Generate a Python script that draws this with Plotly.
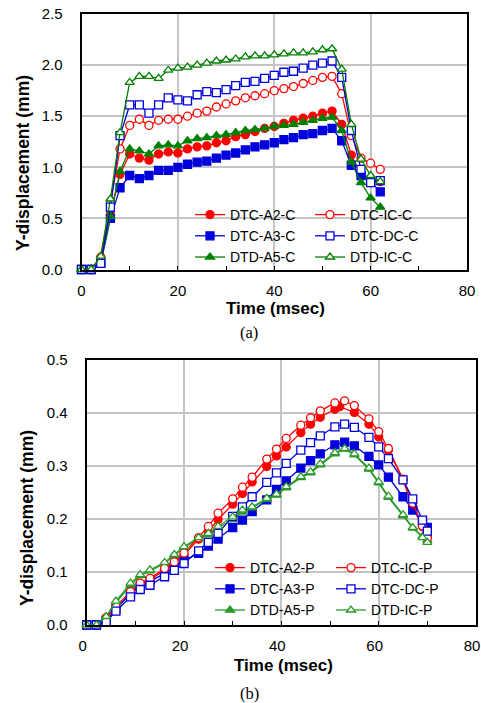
import plotly.graph_objects as go

W, H = 481, 703

# ---------------- data: (a) C series ----------------
time_c = [0, 2, 4, 6, 8, 10, 12, 14, 16, 18, 20, 22, 24, 26, 28, 30, 32, 34, 36, 38,
          40, 42, 44, 46, 48, 50, 52, 54, 56, 58, 60, 62]
dtc_a2_c = [0, 0, 0.11, 0.57, 0.93, 1.13, 1.09, 1.07, 1.13, 1.15, 1.14, 1.18, 1.20, 1.21, 1.24, 1.26,
            1.30, 1.32, 1.35, 1.38, 1.40, 1.43, 1.46, 1.48, 1.50, 1.53, 1.55, 1.42, 1.12, 0.93, 0.88, 0.86]
dtc_ic_c = [0, 0, 0.12, 0.65, 1.18, 1.41, 1.47, 1.41, 1.46, 1.47, 1.47, 1.50, 1.53, 1.55, 1.59, 1.62,
            1.65, 1.68, 1.70, 1.72, 1.75, 1.77, 1.79, 1.82, 1.85, 1.88, 1.89, 1.72, 1.31, 1.09, 1.04, 0.98]
dtc_a3_c = [0, 0, 0.06, 0.50, 0.80, 0.92, 0.89, 0.92, 0.97, 0.97, 1.00, 1.03, 1.05, 1.06, 1.09, 1.12,
            1.14, 1.17, 1.20, 1.22, 1.24, 1.27, 1.29, 1.32, 1.33, 1.36, 1.38, 1.26, 1.02, 0.92, 0.86, 0.76]
dtc_dc_c = [0, 0, 0.06, 0.61, 1.31, 1.61, 1.61, 1.53, 1.61, 1.68, 1.66, 1.65, 1.71, 1.74, 1.73, 1.76,
            1.80, 1.83, 1.84, 1.87, 1.90, 1.93, 1.94, 1.97, 2.00, 2.02, 2.04, 1.88, 1.36, 0.98, 0.85, 0.87]
dtd_a5_c = [0, 0, 0.07, 0.52, 0.96, 1.18, 1.16, 1.13, 1.21, 1.22, 1.21, 1.26, 1.28, 1.29, 1.31, 1.32,
            1.34, 1.36, 1.37, 1.38, 1.40, 1.41, 1.42, 1.44, 1.46, 1.48, 1.49, 1.36, 1.05, 0.85, 0.70, 0.61]
dtd_ic_c = [0, 0, 0.13, 0.69, 1.34, 1.83, 1.89, 1.89, 1.87, 1.95, 1.97, 1.98, 2.00, 2.02, 2.04, 2.05,
            2.06, 2.08, 2.09, 2.09, 2.10, 2.11, 2.12, 2.12, 2.13, 2.15, 2.16, 1.96, 1.42, 1.08, 0.92, 0.86]

# ---------------- data: (b) P series ----------------
time_p = [0, 2, 4, 6, 9, 11, 13, 16, 18, 20, 23, 25, 27, 30, 32, 34, 37, 39, 41, 44,
          46, 48, 51, 53, 55, 58, 60, 62, 65, 67, 69, 70]
time_p_a2 = [0, 2, 4, 6, 9, 11, 13, 16, 18, 20, 23, 25, 27, 30, 32, 34, 37, 39, 41, 44,
             46, 48, 51, 52, 55, 58, 60, 62, 65, 67, 69, 70]
dtc_a2_p = [0, 0, 0.013, 0.031, 0.060, 0.075, 0.085, 0.103, 0.116, 0.132, 0.162, 0.176, 0.199, 0.228,
            0.248, 0.270, 0.299, 0.319, 0.336, 0.363, 0.379, 0.392, 0.407, 0.412, 0.401, 0.379, 0.355,
            0.330, 0.274, 0.222, 0.186, 0.167]
dtc_ic_p = [0, 0, 0.014, 0.035, 0.063, 0.079, 0.088, 0.107, 0.119, 0.136, 0.165, 0.186, 0.211, 0.238,
            0.260, 0.279, 0.313, 0.332, 0.352, 0.377, 0.391, 0.404, 0.419, 0.423, 0.414, 0.389, 0.365,
            0.333, 0.275, 0.230, 0.187, 0.164]
dtc_a3_p = [0, 0, 0.009, 0.030, 0.060, 0.073, 0.083, 0.097, 0.110, 0.122, 0.135, 0.149, 0.162, 0.184,
            0.198, 0.214, 0.236, 0.256, 0.272, 0.296, 0.310, 0.323, 0.340, 0.345, 0.338, 0.318, 0.302,
            0.279, 0.242, 0.217, 0.195, 0.184]
dtc_dc_p = [0, 0, 0.006, 0.026, 0.053, 0.067, 0.075, 0.091, 0.103, 0.116, 0.140, 0.156, 0.173, 0.205,
            0.223, 0.242, 0.269, 0.287, 0.305, 0.330, 0.344, 0.357, 0.374, 0.379, 0.373, 0.354, 0.336,
            0.314, 0.274, 0.238, 0.198, 0.177]
dtd_a5_p = [0, 0, 0.015, 0.042, 0.075, 0.093, 0.102, 0.116, 0.131, 0.146, 0.163, 0.170, 0.183, 0.199,
            0.213, 0.221, 0.237, 0.245, 0.259, 0.278, 0.287, 0.302, 0.323, 0.332, 0.321, 0.294, 0.268,
            0.241, 0.206, 0.183, 0.167, 0.160]
dtd_ic_p = [0, 0, 0.016, 0.045, 0.079, 0.095, 0.104, 0.118, 0.133, 0.148, 0.165, 0.173, 0.186, 0.204,
            0.217, 0.223, 0.239, 0.247, 0.261, 0.280, 0.289, 0.304, 0.325, 0.333, 0.323, 0.296, 0.270,
            0.243, 0.208, 0.184, 0.165, 0.156]

x_ticks = [0, 20, 40, 60, 80]
y_ticks_c = [0.0, 0.5, 1.0, 1.5, 2.0, 2.5]
y_ticks_p = [0.0, 0.1, 0.2, 0.3, 0.4, 0.5]

RED, BLUE, GREEN, GREEN_B = "#ff0000", "#0000dd", "#008000", "#2a9a2a"


def px_x(p):
    return p / W


def px_y(p):
    return 1 - p / H


fig = go.Figure()


def add(x, y, name, color, symbol, filled, xa, ya, legend, size):
    fig.add_trace(go.Scatter(
        x=x, y=y, name=name, mode="lines+markers", xaxis=xa, yaxis=ya, legend=legend,
        line=dict(color=color, width=1.3),
        marker=dict(symbol=symbol, size=size,
                    color=color if filled else "white",
                    line=dict(color=color, width=1.3)),
        cliponaxis=False,
    ))


# (a)
add(time_c, dtc_a2_c, "DTC-A2-C", RED, "circle", True, "x", "y", "legend", 8)
add(time_c, dtc_a3_c, "DTC-A3-C", BLUE, "square", True, "x", "y", "legend", 8)
add(time_c, dtd_a5_c, "DTD-A5-C", GREEN, "triangle-up", True, "x", "y", "legend", 8)
add(time_c, dtc_ic_c, "DTC-IC-C", RED, "circle", False, "x", "y", "legend2", 8)
add(time_c, dtc_dc_c, "DTC-DC-C", BLUE, "square", False, "x", "y", "legend2", 8)
add(time_c, dtd_ic_c, "DTD-IC-C", GREEN, "triangle-up", False, "x", "y", "legend2", 8)
# (b)
add(time_p_a2, dtc_a2_p, "DTC-A2-P", RED, "circle", True, "x2", "y2", "legend3", 8)
add(time_p, dtc_a3_p, "DTC-A3-P", BLUE, "square", True, "x2", "y2", "legend3", 8)
add(time_p, dtd_a5_p, "DTD-A5-P", GREEN_B, "triangle-up", True, "x2", "y2", "legend3", 8)
add(time_p, dtc_ic_p, "DTC-IC-P", RED, "circle", False, "x2", "y2", "legend4", 8)
add(time_p, dtc_dc_p, "DTC-DC-P", BLUE, "square", False, "x2", "y2", "legend4", 8)
add(time_p, dtd_ic_p, "DTD-IC-P", GREEN_B, "triangle-up", False, "x2", "y2", "legend4", 8)

FONT = "Liberation Sans, Arial, sans-serif"
tickfont = dict(family=FONT, size=15, color="black")
grid = dict(showgrid=True, gridcolor="#c4c4c4", gridwidth=1.5, zeroline=False, automargin=False,
            showline=True, linecolor="black", linewidth=2, mirror=True)

xcommon = dict(range=[0, 80], tickvals=x_ticks, ticks="inside", ticklen=4, tickcolor="black",
               minor=dict(dtick=10, ticks="inside", ticklen=4, tickcolor="black", showgrid=False),
               tickfont=tickfont, ticklabelstandoff=6, ticklabeloverflow="allow", **grid)

fig.update_layout(
    width=W, height=H, margin=dict(l=0, r=0, t=0, b=0, autoexpand=False),
    plot_bgcolor="white", paper_bgcolor="white",
    showlegend=True,
    xaxis=dict(domain=[px_x(81.5), px_x(467)], anchor="y", **xcommon),
    yaxis=dict(domain=[px_y(269.5), px_y(14)], anchor="x", range=[0, 2.5], tickvals=y_ticks_c,
               tickformat=".1f", ticks="", tickfont=tickfont, ticklabelstandoff=14, **grid),
    xaxis2=dict(domain=[px_x(86.7), px_x(476)], anchor="y2", ticklabelshift=-4, **xcommon),
    yaxis2=dict(domain=[px_y(625), px_y(360)], anchor="x2", range=[0, 0.5], tickvals=y_ticks_p,
                tickformat=".1f", ticks="", tickfont=tickfont, ticklabelstandoff=14, **grid),
)

legend_common = dict(orientation="v", xanchor="left", yanchor="top", bgcolor="rgba(0,0,0,0)",
                     borderwidth=0, font=dict(family=FONT, size=14, color="black"),
                     itemclick=False, itemdoubleclick=False)
fig.update_layout(
    legend=dict(x=px_x(190), y=px_y(199), **legend_common),
    legend2=dict(x=px_x(310), y=px_y(199), **legend_common),
    legend3=dict(x=px_x(210), y=px_y(552), **legend_common),
    legend4=dict(x=px_x(331), y=px_y(552), **legend_common),
)

# white legend backgrounds (over gridlines, under traces)
fig.add_shape(type="rect", xref="paper", yref="paper", layer="between",
              x0=px_x(185), x1=px_x(428), y0=px_y(268), y1=px_y(209),
              fillcolor="white", line=dict(width=0))
fig.add_shape(type="rect", xref="paper", yref="paper", layer="between",
              x0=px_x(205), x1=px_x(443), y0=px_y(624), y1=px_y(561),
              fillcolor="white", line=dict(width=0))

title_font = dict(family=FONT, size=17.5, color="black")
ann = [
    dict(text="<b>Y-displacement (mm)</b>", x=px_x(23), y=px_y(163), textangle=-90, font=title_font),
    dict(text="<b>Time (msec)</b>", x=px_x(275), y=px_y(308), font=dict(family=FONT, size=17, color="black")),
    dict(text="(a)", x=px_x(249), y=px_y(333), font=dict(family="Liberation Serif, Times New Roman, serif", size=16.5, color="black")),
    dict(text="<b>Y-displacement (mm)</b>", x=px_x(27), y=px_y(518), textangle=-90, font=title_font),
    dict(text="<b>Time (msec)</b>", x=px_x(283), y=px_y(665), font=dict(family=FONT, size=17, color="black")),
    dict(text="(b)", x=px_x(249), y=px_y(693), font=dict(family="Liberation Serif, Times New Roman, serif", size=16.5, color="black")),
]
for a in ann:
    fig.add_annotation(xref="paper", yref="paper", xanchor="center", yanchor="middle",
                       showarrow=False, **a)

fig.write_html("out.html", config={"displayModeBar": False},
               post_script="document.body.style.margin='0';")
